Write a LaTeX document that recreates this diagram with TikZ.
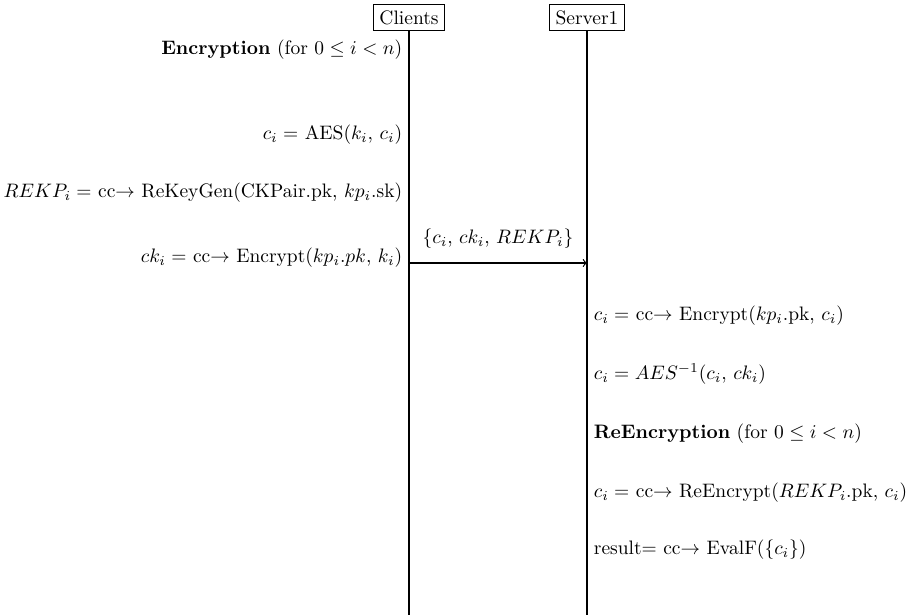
\documentclass[tikz,border=0pt]{standalone}
\usepackage{amsmath}
\begin{document}
\begin{tikzpicture}[party/.style={draw,rectangle,inner sep=3.2pt},
  lifeline/.style={line width=0.75pt},
  msg/.style={line width=0.6pt,->}]
\useasboundingbox (0,0) rectangle (16.5,-11.09);
% the two parties and their lifelines
\node[party] (clients) at (7.376,-0.316) {Clients};
\node[party] (server) at (10.585,-0.316) {Server1};
\coordinate (clientsEnd) at (7.376,-11.09);
\coordinate (serverEnd) at (10.585,-11.09);
\draw [lifeline] (clients) -- (clientsEnd);
\draw [lifeline] (server) -- (serverEnd);
% client side
\node[anchor=east] (enc) at (7.376,-0.902) {\textbf{Encryption} (for $0 \leq i < n$)};
\node[anchor=east] (aes) at (7.376,-2.434) {$c_i =$ AES($k_i$, $c_i$)};
\node[anchor=east] (rekp) at (7.376,-3.480) {$REKP_i =$ cc$\rightarrow$ ReKeyGen(CKPair.pk, $kp_i$.sk)};
\node[anchor=east] (cki) at (7.376,-4.653) {$ck_i =$ cc$\rightarrow$ Encrypt($kp_i.pk$, $k_i$)};
% message to the server
\coordinate (msgFrom) at (7.376,-4.743);
\coordinate (msgTo) at (10.585,-4.743);
\draw [msg] (msgFrom) -- node[above=4pt] (send) {\{$c_i$, $ck_i$, $REKP_i$\}} (msgTo);
% server side
\node[anchor=west] (fhe) at (10.585,-5.698) {$c_i =$ cc$\rightarrow$ Encrypt($kp_i$.pk, $c_i$)};
\node[anchor=west] (dec) at (10.585,-6.744) {$c_i = AES^{-1}(c_i$, $ck_i)$};
\node[anchor=west] (reenc) at (10.585,-7.826) {\textbf{ReEncryption} (for $0 \leq i < n$)};
\node[anchor=west] (re) at (10.585,-8.890) {$c_i =$ cc$\rightarrow$ ReEncrypt($REKP_i$.pk, $c_i$)};
\node[anchor=west] (eval) at (10.585,-9.918) {result$=$ cc$\rightarrow$ EvalF(\{$c_i$\})};
\end{tikzpicture}
\end{document}
